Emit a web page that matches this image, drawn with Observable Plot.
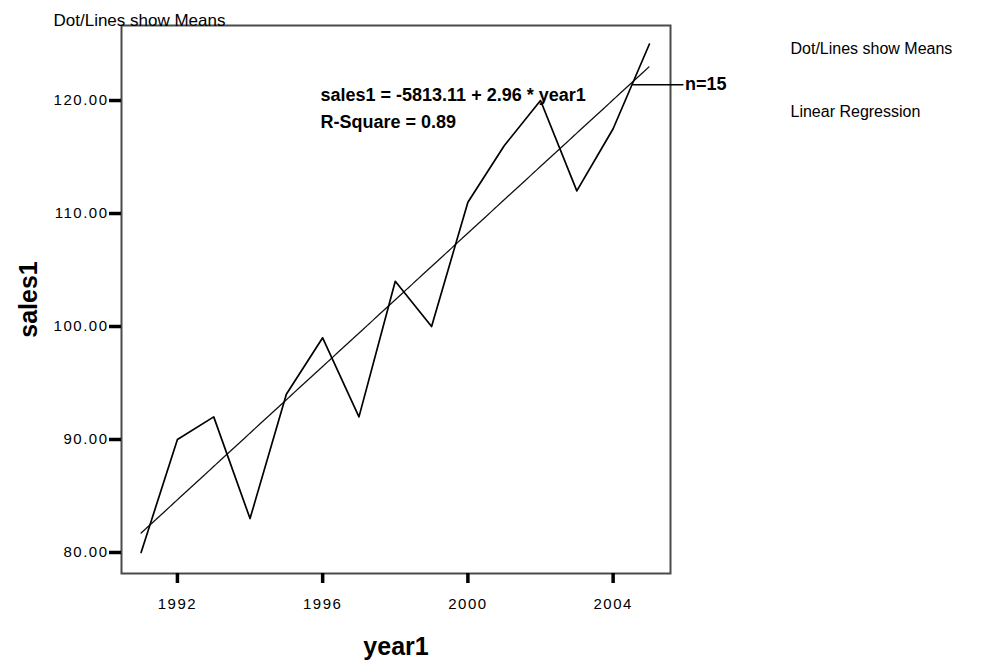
<!DOCTYPE html>
<html>
<head>
<meta charset="utf-8">
<script src="https://cdn.jsdelivr.net/npm/d3@7"></script>
<script src="https://cdn.jsdelivr.net/npm/@observablehq/plot@0.6"></script>
<style>
  html, body { margin: 0; padding: 0; background: #fff; }
  #chart { width: 1004px; height: 664px; }
  g[aria-label="x-axis tick label"] text,
  g[aria-label="y-axis tick label"] text { font-size: 15px; letter-spacing: 1.5px; }
</style>
</head>
<body>
<div id="chart"></div>
<script>
// ---- data ----
const years = [1991, 1992, 1993, 1994, 1995, 1996, 1997, 1998, 1999, 2000, 2001, 2002, 2003, 2004, 2005];
const sales = [80, 90, 92, 83, 94, 99, 92, 104, 100, 111, 116, 120, 112, 117.5, 125];
const xTicks = [1992, 1996, 2000, 2004];
const yTicks = [80, 90, 100, 110, 120];
const equationLine1 = "sales1 = -5813.11 + 2.96 * year1";
const equationLine2 = "R-Square = 0.89";
const nLabel = [{x1: 2004.55, x2: 2005.95, y: 121.4, text: "n=15"}];
const legendLine1 = "Dot/Lines show Means";
const legendLine2 = "Linear Regression";
const titleText = "Dot/Lines show Means";
const xTitle = "year1";
const yTitle = "sales1";

const data = years.map((x, i) => ({x, y: sales[i]}));

const font = "'Liberation Sans', Arial, sans-serif";

const chart = Plot.plot({
  width: 1004,
  height: 664,
  marginLeft: 121,
  marginRight: 334,
  marginTop: 25,
  marginBottom: 91,
  style: {fontFamily: font, fontSize: "15px", background: "#fff", color: "#000", overflow: "visible"},
  x: {domain: [1990.46, 2005.58]},
  y: {domain: [78.14, 126.64]},
  marks: [
    Plot.frame({stroke: "#4a4a4a", strokeWidth: 2}),
    Plot.axisX({ticks: xTicks, tickSize: 10, tickPadding: 15, strokeWidth: 3.5, stroke: "#000",
      tickFormat: d => String(d), label: null}),
    Plot.axisY({ticks: yTicks, tickSize: 12, tickPadding: 1, strokeWidth: 3.5, stroke: "#000",
      tickFormat: d => d.toFixed(2), label: null}),
    Plot.text([xTitle], {frameAnchor: "bottom", dy: 73, lineAnchor: "middle", textAnchor: "middle", fontSize: 25, fontWeight: "bold", text: d => d, style: "letter-spacing:1.5px"}),
    Plot.text([yTitle], {frameAnchor: "left", dx: -93, lineAnchor: "middle", textAnchor: "middle", rotate: -90, fontSize: 25, fontWeight: "bold", text: d => d}),
    Plot.linearRegressionY(data, {x: "x", y: "y", ci: 0, stroke: "#111", strokeWidth: 1.3, strokeDasharray: "6,0.7"}),
    Plot.line(data, {x: "x", y: "y", stroke: "#000", strokeWidth: 1.7}),
    Plot.ruleY(nLabel, {x1: "x1", x2: "x2", y: "y", stroke: "#000", strokeWidth: 1.6, clip: false}),
    Plot.text(nLabel, {x: "x2", y: "y", text: "text", textAnchor: "start", lineAnchor: "middle", dx: 1, fontSize: 18, fontWeight: "bold", style: "letter-spacing:0.5px"}),
    Plot.text([equationLine1], {frameAnchor: "top-left", dx: 199, dy: 70, lineAnchor: "middle",
      text: d => d, fontSize: 18, fontWeight: "bold", textAnchor: "start", style: "letter-spacing:-0.1px"}),
    Plot.text([equationLine2], {frameAnchor: "top-left", dx: 199, dy: 97, lineAnchor: "middle",
      text: d => d, fontSize: 18, fontWeight: "bold", textAnchor: "start", style: "letter-spacing:-0.1px"}),
    Plot.text([titleText], {frameAnchor: "top-left", dx: -68, dy: -5, text: d => d, fontSize: 17, textAnchor: "start", lineAnchor: "middle", style: "letter-spacing:0.5px"}),
    Plot.text([legendLine1], {frameAnchor: "top-right", dx: 120, dy: 23, text: d => d, fontSize: 16, textAnchor: "start", lineAnchor: "middle"}),
    Plot.text([legendLine2], {frameAnchor: "top-right", dx: 120, dy: 86, text: d => d, fontSize: 16, textAnchor: "start", lineAnchor: "middle"})
  ]
});

document.getElementById("chart").appendChild(chart);
</script>
</body>
</html>
